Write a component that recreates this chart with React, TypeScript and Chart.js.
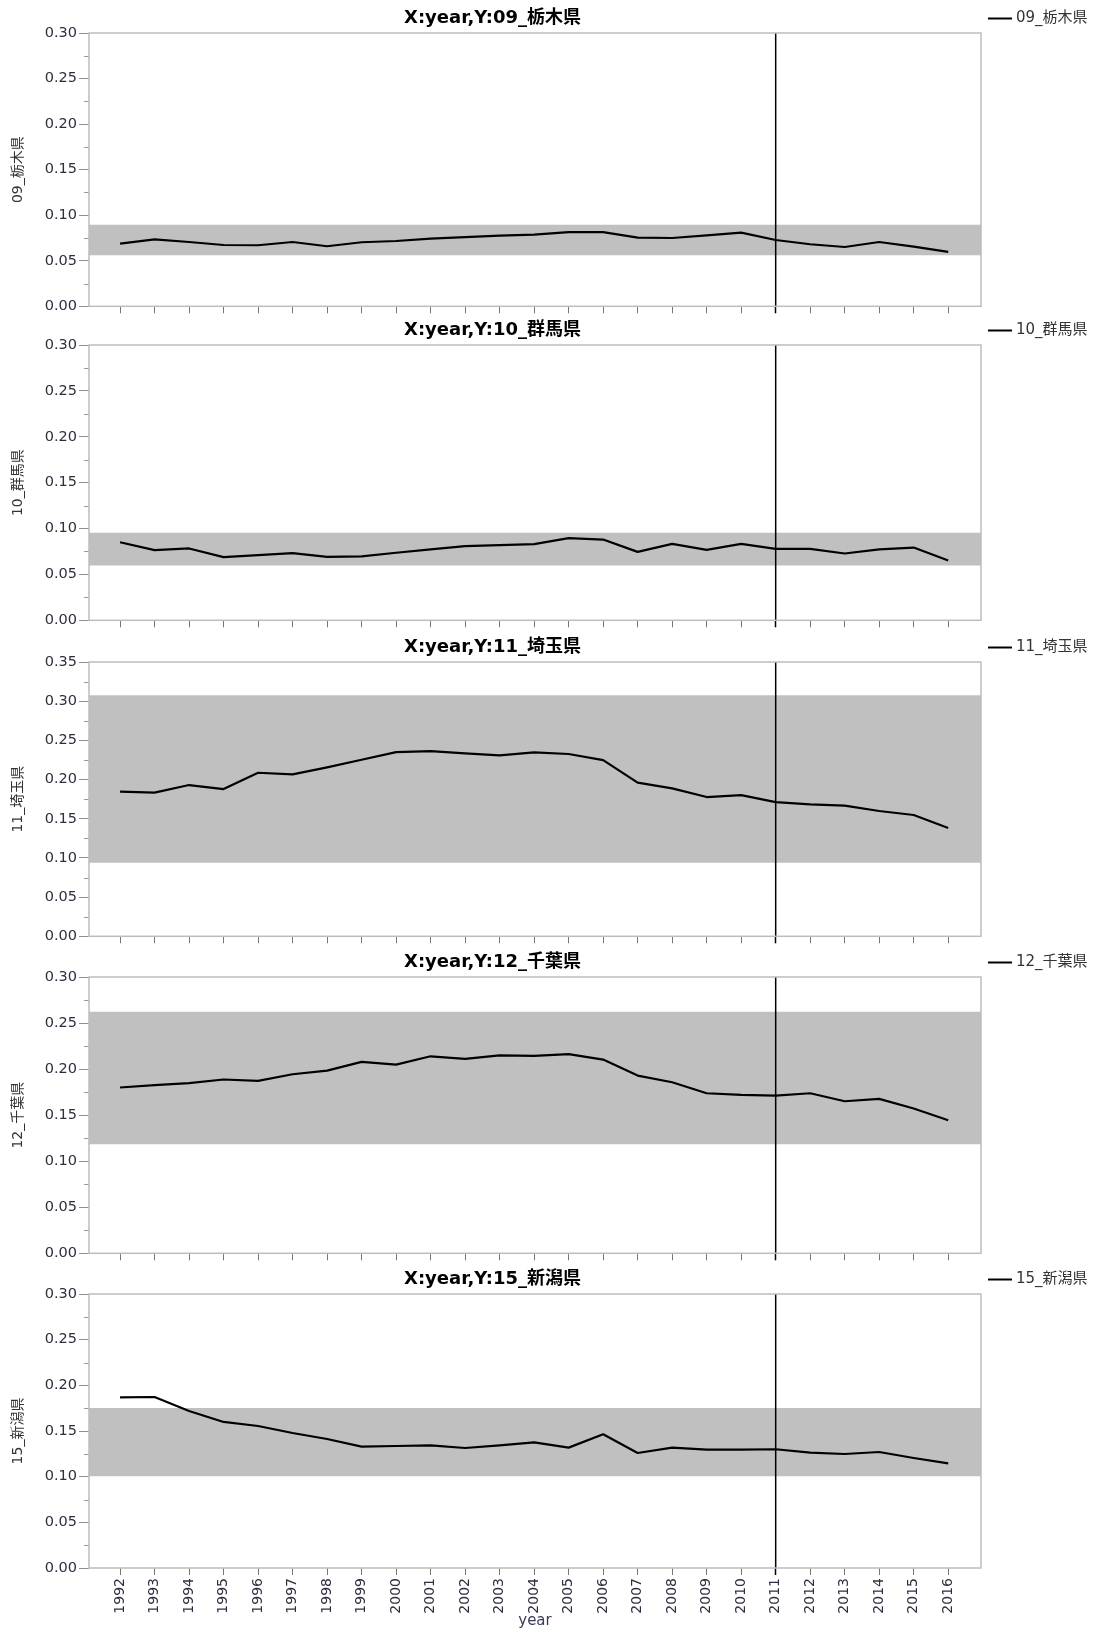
import React, { useEffect, useRef } from "react";
import { Chart, registerables } from "chart.js";

Chart.register(...registerables);

// ---- data ----
const years = [
  1992, 1993, 1994, 1995, 1996, 1997, 1998, 1999, 2000, 2001, 2002, 2003, 2004,
  2005, 2006, 2007, 2008, 2009, 2010, 2011, 2012, 2013, 2014, 2015, 2016,
];

const prefectureNames = ["09_栃木県", "10_群馬県", "11_埼玉県", "12_千葉県", "15_新潟県"];

const tochigi = [
  0.0688, 0.0735, 0.0706, 0.0673, 0.067, 0.0706, 0.0659, 0.0703, 0.0717, 0.0743, 0.076, 0.0776,
  0.0787, 0.0815, 0.0815, 0.0754, 0.075, 0.0779, 0.0808, 0.0728, 0.0681, 0.0651, 0.0706, 0.0656,
  0.0597,
];
const gunma = [
  0.0851, 0.0764, 0.0783, 0.0688, 0.071, 0.0732, 0.0692, 0.0696, 0.0736, 0.0772, 0.0808, 0.0819,
  0.083, 0.0895, 0.088, 0.0746, 0.0833, 0.0768, 0.0833, 0.0779, 0.0779, 0.0728, 0.0772, 0.0793,
  0.0652,
];
const saitama = [
  0.1845, 0.1833, 0.193, 0.1879, 0.2087, 0.2066, 0.2155, 0.2253, 0.235, 0.2362, 0.2333, 0.2308,
  0.2346, 0.2326, 0.2248, 0.196, 0.1888, 0.1777, 0.1802, 0.1713, 0.1684, 0.1667, 0.1599, 0.1548,
  0.1382,
];
const chiba = [
  0.18, 0.1825, 0.1847, 0.1887, 0.1872, 0.1944, 0.1984, 0.2078, 0.2049, 0.2139, 0.2111, 0.215,
  0.2143, 0.2163, 0.2103, 0.193, 0.1857, 0.1738, 0.1721, 0.1713, 0.1738, 0.1651, 0.1677, 0.1572,
  0.1445,
];
const niigata = [
  0.1869, 0.1872, 0.1719, 0.1599, 0.1555, 0.1478, 0.1412, 0.1329, 0.1336, 0.1343, 0.1314, 0.1343,
  0.1376, 0.1318, 0.1464, 0.1259, 0.1318, 0.1296, 0.1296, 0.13, 0.1263, 0.1248, 0.127, 0.1204,
  0.1146,
];

const seriesValues = [tochigi, gunma, saitama, chiba, niigata];

// shaded reference band per prefecture (lower / upper bound)
const bandLow = [0.056, 0.0598, 0.094, 0.1185, 0.1004];
const bandHigh = [0.0896, 0.0953, 0.3075, 0.2624, 0.1752];

// y tick labels per panel
const yTicks030 = [0, 0.05, 0.1, 0.15, 0.2, 0.25, 0.3];
const yTicks035 = [0, 0.05, 0.1, 0.15, 0.2, 0.25, 0.3, 0.35];
const yTickSets = [yTicks030, yTicks030, yTicks035, yTicks030, yTicks030];

const markerYear = 2011;
const xAxisTitle = "year";

// ---- layout ----
const PAGE_W = 1095;
const PAGE_H = 1632;
const PLOT_LEFT = 89;
const PLOT_RIGHT = 981;
const PAD_LEFT = 4;
const HEAD = 33; // space above plot area for the panel title
const HEAD_MID = 18.5; // vertical centre of the title / legend row
const plotTops = [33, 345, 662, 977, 1294];
const plotBottoms = [307, 621, 937, 1254, 1568];
const X_MIN = 1991.1;
const X_MAX = 2016.95;

const FONT = "'DejaVu Sans', 'Noto Sans CJK JP', sans-serif";
const TEXT = "#333";
const TICK_TEXT = "#2e2e40";

function Panel({ idx }: { idx: number }) {
  const ref = useRef<HTMLCanvasElement | null>(null);
  const isLast = idx === prefectureNames.length - 1;
  const top = plotTops[idx] - HEAD;
  const plotH = plotBottoms[idx] - plotTops[idx];
  const height = isLast ? PAGE_H - top : HEAD + plotH + 10;
  const xAxisH = height - HEAD - plotH;

  useEffect(() => {
    const canvas = ref.current;
    if (!canvas) return;
    const name = prefectureNames[idx];
    const values = seriesValues[idx];
    const yTicks = yTickSets[idx];
    const yMax = yTicks[yTicks.length - 1];

    const framePlugin = {
      id: "frame",
      afterDatasetsDraw(chart: any) {
        const { ctx, chartArea, scales } = chart;
        const ys = scales.y;
        ctx.save();
        // minor ticks halfway between labelled ticks
        ctx.strokeStyle = "#9a9a9a";
        ctx.lineWidth = 1;
        for (let i = 0; i < yTicks.length - 1; i++) {
          const mid = (yTicks[i] + yTicks[i + 1]) / 2;
          const py = Math.round(ys.getPixelForValue(mid)) + 0.5;
          ctx.beginPath();
          ctx.moveTo(chartArea.left - 5, py);
          ctx.lineTo(chartArea.left, py);
          ctx.stroke();
        }
        // plot box
        ctx.strokeStyle = "#bdbdbd";
        ctx.lineWidth = 1.5;
        ctx.strokeRect(
          chartArea.left,
          chartArea.top,
          chartArea.right - chartArea.left,
          chartArea.bottom - chartArea.top
        );
        ctx.restore();
      },
      afterDraw(chart: any) {
        const { ctx } = chart;
        const label = chart.data.datasets[0].label;
        const cy = HEAD_MID;
        ctx.save();
        ctx.strokeStyle = "#000";
        ctx.lineWidth = 2;
        ctx.beginPath();
        ctx.moveTo(988, cy);
        ctx.lineTo(1012, cy);
        ctx.stroke();
        ctx.fillStyle = TEXT;
        ctx.font = `15px ${FONT}`;
        ctx.textBaseline = "middle";
        ctx.textAlign = "left";
        ctx.fillText(label, 1016, cy);
        ctx.restore();
      },
    };

    const titleLine = 18 * 1.2;
    const titleTop = HEAD_MID - titleLine / 2;

    const chart = new Chart(canvas, {
      type: "line",
      data: {
        datasets: [
          {
            label: name,
            data: years.map((x, i) => ({ x, y: values[i] })),
            borderColor: "#000",
            borderWidth: 2.2,
            pointRadius: 0,
            tension: 0,
            fill: false,
            borderJoinStyle: "round",
          },
          {
            label: "marker",
            data: [
              { x: markerYear, y: 0 },
              { x: markerYear, y: yMax },
            ],
            borderColor: "#000",
            borderWidth: 1.5,
            pointRadius: 0,
            fill: false,
          },
          {
            label: "band",
            data: [
              { x: X_MIN, y: bandHigh[idx] },
              { x: X_MAX, y: bandHigh[idx] },
            ],
            borderWidth: 0,
            borderColor: "rgba(0,0,0,0)",
            backgroundColor: "#c0c0c0",
            pointRadius: 0,
            fill: { value: bandLow[idx] },
          },
        ],
      } as any,
      options: {
        animation: false,
        responsive: false,
        events: [],
        layout: {
          padding: { top: 0, left: PAD_LEFT, right: PAGE_W - PLOT_RIGHT, bottom: 0 },
        },
        plugins: {
          legend: { display: false },
          tooltip: { enabled: false },
          title: {
            display: true,
            text: `X:year,Y:${name}`,
            color: "#000",
            font: { family: FONT, size: 18, weight: "bold", lineHeight: 1.2 },
            padding: { top: titleTop, bottom: HEAD - titleTop - titleLine },
          },
        },
        scales: {
          x: {
            type: "linear",
            min: X_MIN,
            max: X_MAX,
            afterBuildTicks: (scale: any) => {
              scale.ticks = years.map((value) => ({ value }));
            },
            afterFit: (scale: any) => {
              scale.height = xAxisH;
            },
            grid: {
              display: true,
              drawOnChartArea: false,
              drawTicks: true,
              tickLength: 7,
              tickColor: (c: any) => (c.tick && c.tick.value === markerYear ? "#000" : "#777"),
              tickWidth: (c: any) => (c.tick && c.tick.value === markerYear ? 1.5 : 1),
            },
            border: { display: false },
            ticks: {
              display: isLast,
              autoSkip: false,
              minRotation: 90,
              maxRotation: 90,
              padding: 3,
              color: TICK_TEXT,
              font: { family: FONT, size: 14 },
              callback: (v: any) => String(v),
            },
            title: {
              display: isLast,
              text: xAxisTitle,
              color: "#3a3a5c",
              font: { family: FONT, size: 15, lineHeight: 1.2 },
              padding: { top: 0, bottom: 2 },
            },
          },
          y: {
            type: "linear",
            min: 0,
            max: yMax,
            afterBuildTicks: (scale: any) => {
              scale.ticks = yTicks.map((value) => ({ value }));
            },
            afterFit: (scale: any) => {
              scale.width = PLOT_LEFT - PAD_LEFT;
            },
            grid: {
              display: true,
              drawOnChartArea: false,
              drawTicks: true,
              tickLength: 10,
              tickColor: "#909090",
            },
            border: { display: false },
            ticks: {
              padding: 2,
              color: TICK_TEXT,
              font: { family: FONT, size: 14.5 },
              callback: (v: any) => Number(v).toFixed(2),
            },
            title: {
              display: true,
              text: name,
              color: TEXT,
              font: { family: FONT, size: 14, lineHeight: 1.2 },
              padding: { top: 5.6, bottom: 0 },
            },
          },
        },
      } as any,
      plugins: [framePlugin],
    });
    return () => chart.destroy();
  }, [idx, xAxisH]);

  return (
    <canvas
      ref={ref}
      width={PAGE_W}
      height={height}
      style={{ position: "absolute", left: 0, top, width: PAGE_W, height, display: "block" }}
    />
  );
}

export default function App() {
  return (
    <div
      style={{
        position: "absolute",
        left: 0,
        top: 0,
        width: PAGE_W,
        height: PAGE_H,
        background: "#fff",
        overflow: "hidden",
      }}
    >
      {prefectureNames.map((_, i) => (
        <Panel key={i} idx={i} />
      ))}
    </div>
  );
}
